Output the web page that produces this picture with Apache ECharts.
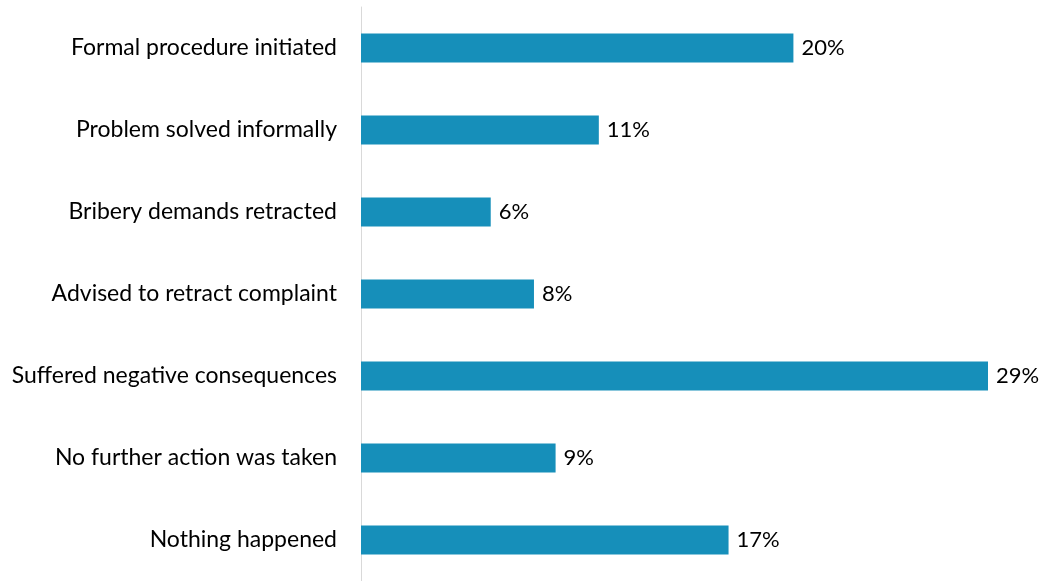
<!DOCTYPE html>
<html>
<head>
<meta charset="utf-8">
<script src="https://cdn.jsdelivr.net/npm/echarts@6/dist/echarts.min.js"></script>
<style>
  html, body { margin: 0; padding: 0; background: #fff; }
  #chart { width: 1042px; height: 581px; }
</style>
</head>
<body>
<div id="chart"></div>
<script>
// Outcomes after reporting, share of respondents (%)
const categories = [
  'Formal procedure initiated',
  'Problem solved informally',
  'Bribery demands retracted',
  'Advised to retract complaint',
  'Suffered negative consequences',
  'No further action was taken',
  'Nothing happened'
];
const values = [20, 11, 6, 8, 29, 9, 17];

const FONT = 'Lato, sans-serif';
const chart = echarts.init(document.getElementById('chart'));
chart.setOption({
  animation: false,
  grid: { left: 361, top: 7, width: 627, height: 579, containLabel: false },
  xAxis: {
    type: 'value',
    min: 0,
    max: 29,
    show: false
  },
  yAxis: {
    type: 'category',
    data: categories,
    inverse: true,
    axisLine: { show: true, lineStyle: { color: '#d9d9d9', width: 1 } },
    axisTick: { show: false },
    axisLabel: { color: '#000', fontSize: 23, fontFamily: FONT, margin: 24 }
  },
  series: [{
    type: 'bar',
    data: values,
    barWidth: 29,
    itemStyle: { color: '#168fba' },
    label: {
      show: true,
      position: 'right',
      distance: 8,
      formatter: '{c}%',
      color: '#000',
      fontSize: 22,
      fontFamily: FONT
    }
  }]
});
</script>
</body>
</html>
